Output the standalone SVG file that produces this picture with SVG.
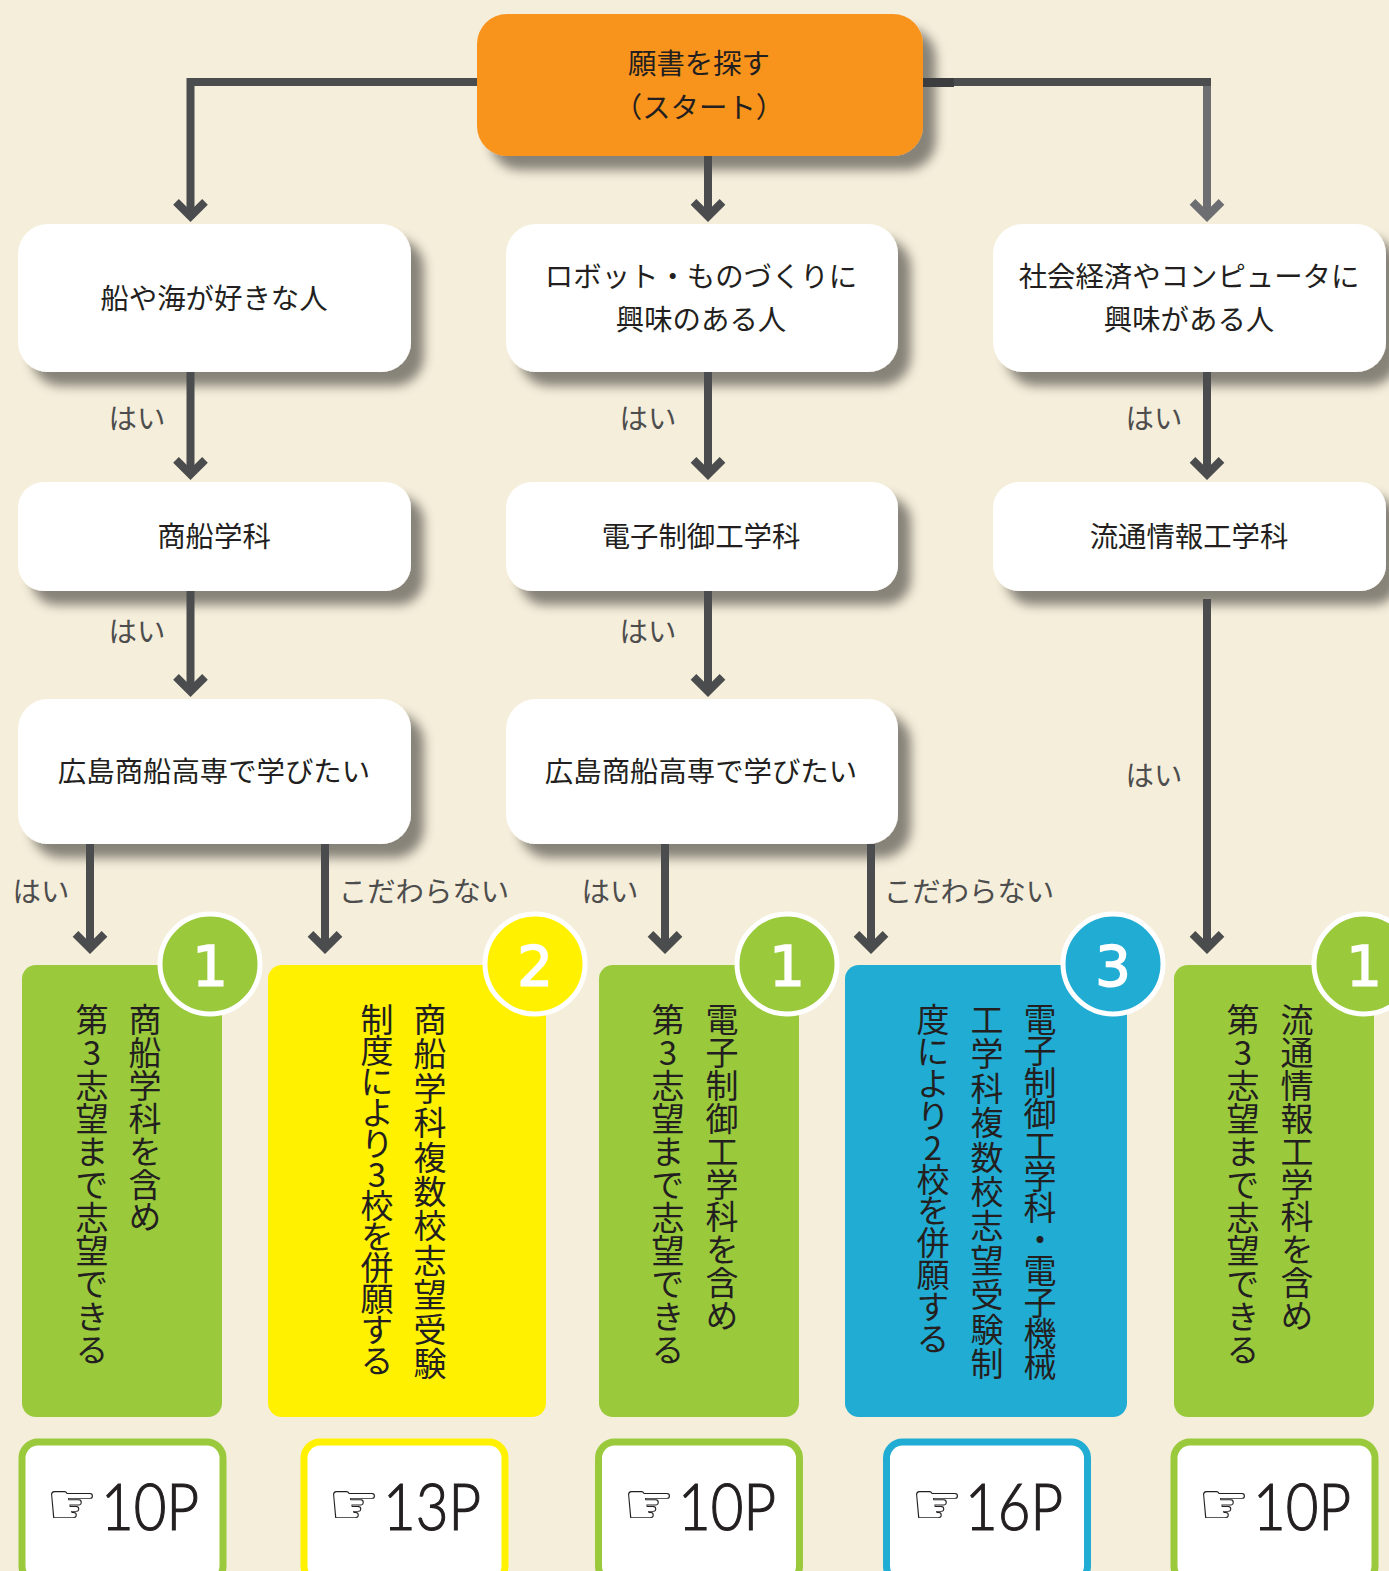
<svg xmlns="http://www.w3.org/2000/svg" width="1389" height="1571" viewBox="0 0 1389 1571">
<style>
text{font-family:"Noto Sans CJK JP","Noto Sans",sans-serif;fill:#231f20}
.n{font-size:28.4px;text-anchor:middle}
.l{font-size:28.4px;text-anchor:middle;fill:#4d4d4d}
.v{font-size:33px;writing-mode:vertical-rl;text-orientation:upright}
.num{font-family:"DejaVu Sans",sans-serif;font-size:56px;text-anchor:middle;fill:#fff;stroke:#fff;stroke-width:1.6}
.hand{font-family:"DejaVu Sans",sans-serif;font-size:58px;text-anchor:middle}
.pg{font-family:"Lato","Liberation Sans",sans-serif;font-weight:300;font-size:65px;fill:#231f20;stroke:#231f20;stroke-width:1.2}
.w{fill:#fff;filter:url(#sh)}
.c{fill:none;stroke:#4a4c4e;stroke-width:8}
.a{fill:none;stroke:#4a4c4e;stroke-width:8}
.a2{fill:none;stroke:#6d6e71;stroke-width:8}
.pb{fill:#fff;stroke-width:7}
.b{stroke:#fff;stroke-width:5}
.g{fill:#9aca3c}.y{fill:#fff100}.t{fill:#21acd4}
.sg{stroke:#9aca3c}.sy{stroke:#fff100}.st{stroke:#21acd4}
</style>
<defs>
<filter id="sh" x="-10%" y="-10%" width="125%" height="140%"><feDropShadow dx="13" dy="14" stdDeviation="5.5" flood-color="#000" flood-opacity=".45"/></filter>
<path id="ah" class="a" d="M-14.5,-20.2 L0,-5.7 L14.5,-20.2"/>
<path id="ah2" class="a2" d="M-14.5,-20.2 L0,-5.7 L14.5,-20.2"/>
</defs>
<rect width="1389" height="1571" fill="#f5eedb"/>

<g id="node-start"><rect x="477" y="14" width="446" height="142" rx="30" fill="#f8931f" filter="url(#sh)"/><text class="n" x="699" y="74">願書を探す</text><text class="n" x="699" y="118">（スタート）</text></g>
<g id="node-a1"><rect class="w" x="18" y="224" width="393" height="148" rx="30"/><text class="n" x="214" y="309">船や海が好きな人</text></g>
<g id="node-b1"><rect class="w" x="506" y="224" width="392" height="148" rx="30"/><text class="n" x="701" y="287">ロボット・ものづくりに</text><text class="n" x="701" y="330">興味のある人</text></g>
<g id="node-c1"><rect class="w" x="993" y="224" width="393" height="148" rx="30"/><text class="n" x="1189" y="287">社会経済やコンピュータに</text><text class="n" x="1189" y="330">興味がある人</text></g>
<g id="node-a2"><rect class="w" x="18" y="482" width="393" height="109" rx="26"/><text class="n" x="214" y="547">商船学科</text></g>
<g id="node-b2"><rect class="w" x="506" y="482" width="392" height="109" rx="26"/><text class="n" x="701" y="547">電子制御工学科</text></g>
<g id="node-c2"><rect class="w" x="993" y="482" width="393" height="109" rx="26"/><text class="n" x="1189" y="547">流通情報工学科</text></g>
<g id="node-a3"><rect class="w" x="18" y="699" width="393" height="145" rx="30"/><text class="n" x="214" y="782">広島商船高専で学びたい</text></g>
<g id="node-b3"><rect class="w" x="506" y="699" width="392" height="145" rx="30"/><text class="n" x="701" y="782">広島商船高専で学びたい</text></g>

<g id="connectors">
<path class="c" d="M477,82 H190.5 V218"/>
<path class="c" d="M708,156 V218"/>
<path class="a2" d="M1207,86 V218"/>
<path class="c" d="M923,82 H1211"/>
<rect x="923" y="78" width="31" height="9" fill="#3c3d3f"/>
<path class="c" d="M190.5,372 V475"/><path class="c" d="M190.5,591 V692"/>
<path class="c" d="M708,372 V475"/><path class="c" d="M708,591 V692"/>
<path class="c" d="M1207,372 V475"/><path class="c" d="M1207,599 V948"/>
<path class="c" d="M90,844 V948"/><path class="c" d="M325,844 V948"/><path class="c" d="M665,844 V948"/><path class="c" d="M871,844 V948"/>
<use href="#ah" x="190.5" y="222"/><use href="#ah" x="708" y="222"/><use href="#ah2" x="1207" y="222"/>
<use href="#ah" x="190.5" y="480"/><use href="#ah" x="708" y="480"/><use href="#ah" x="1207" y="480"/>
<use href="#ah" x="190.5" y="697"/><use href="#ah" x="708" y="697"/>
<use href="#ah" x="90" y="954"/><use href="#ah" x="325" y="954"/><use href="#ah" x="665" y="954"/><use href="#ah" x="871" y="954"/><use href="#ah" x="1207" y="954"/>
</g>

<g id="labels">
<text class="l" x="137" y="429">はい</text><text class="l" x="648" y="429">はい</text><text class="l" x="1154" y="429">はい</text>
<text class="l" x="137" y="642">はい</text><text class="l" x="648" y="642">はい</text><text class="l" x="1154" y="786">はい</text>
<text class="l" x="41" y="902">はい</text><text class="l" x="610" y="902">はい</text>
<text class="l" x="424" y="902">こだわらない</text><text class="l" x="969" y="902">こだわらない</text>
</g>

<g id="result-1">
<rect class="g" x="22" y="965" width="200" height="452" rx="14"/>
<text class="v" x="145" y="1003" letter-spacing="-.1">商船学科を含め</text>
<text class="v" x="92" y="1003">第3志望まで志望できる</text>
<circle class="g b" cx="210" cy="964" r="50"/><text class="num" x="210" y="985">1</text>
</g>
<g id="result-2">
<rect class="y" x="268" y="965" width="278" height="452" rx="14"/>
<text class="v" x="430" y="1003" letter-spacing="1.4">商船学科複数校志望受験</text>
<text class="v" x="377" y="1003" letter-spacing="-2">制度により3校を併願する</text>
<circle class="y b" cx="535" cy="964" r="50"/><text class="num" x="535" y="985">2</text>
</g>
<g id="result-3">
<rect class="g" x="599" y="965" width="200" height="452" rx="14"/>
<text class="v" x="722" y="1003" letter-spacing="-.1">電子制御工学科を含め</text>
<text class="v" x="668" y="1003">第3志望まで志望できる</text>
<circle class="g b" cx="787" cy="964" r="50"/><text class="num" x="787" y="985">1</text>
</g>
<g id="result-4">
<rect class="t" x="845" y="965" width="282" height="452" rx="14"/>
<text class="v" x="1040" y="1003" letter-spacing="-1.6">電子制御工学科・電子機械</text>
<text class="v" x="987" y="1003" letter-spacing="1.4">工学科複数校志望受験制</text>
<text class="v" x="933" y="1003" letter-spacing="-1.1">度により2校を併願する</text>
<circle class="t b" cx="1113" cy="964" r="50"/><text class="num" x="1113" y="985">3</text>
</g>
<g id="result-5">
<rect class="g" x="1174" y="965" width="200" height="452" rx="14"/>
<text class="v" x="1297" y="1003" letter-spacing="-.1">流通情報工学科を含め</text>
<text class="v" x="1243" y="1003">第3志望まで志望できる</text>
<circle class="g b" cx="1364" cy="964" r="50"/><text class="num" x="1364" y="985">1</text>
</g>

<g id="page-1"><rect class="pb sg" x="22" y="1442" width="201" height="140" rx="16"/><text class="hand" x="72" y="1524">☞</text><text class="pg" x="101" y="1530" textLength="98" lengthAdjust="spacingAndGlyphs">10P</text></g>
<g id="page-2"><rect class="pb sy" x="304" y="1442" width="201" height="140" rx="16"/><text class="hand" x="354" y="1524">☞</text><text class="pg" x="383" y="1530" textLength="98" lengthAdjust="spacingAndGlyphs">13P</text></g>
<g id="page-3"><rect class="pb sg" x="598.5" y="1442" width="201" height="140" rx="16"/><text class="hand" x="649" y="1524">☞</text><text class="pg" x="678" y="1530" textLength="98" lengthAdjust="spacingAndGlyphs">10P</text></g>
<g id="page-4"><rect class="pb st" x="886.5" y="1442" width="201" height="140" rx="16"/><text class="hand" x="937" y="1524">☞</text><text class="pg" x="965" y="1530" textLength="98" lengthAdjust="spacingAndGlyphs">16P</text></g>
<g id="page-5"><rect class="pb sg" x="1174" y="1442" width="201" height="140" rx="16"/><text class="hand" x="1224" y="1524">☞</text><text class="pg" x="1253" y="1530" textLength="98" lengthAdjust="spacingAndGlyphs">10P</text></g>
</svg>
